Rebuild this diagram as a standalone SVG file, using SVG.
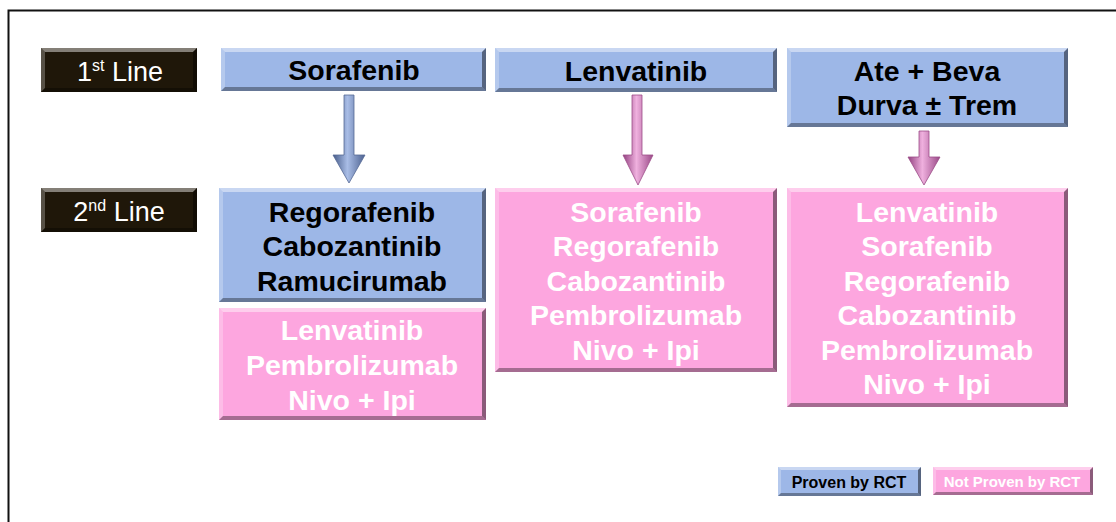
<svg xmlns="http://www.w3.org/2000/svg" width="1116" height="522" viewBox="0 0 1116 522">
<defs>
<style>
.blue{fill:#9db7e7}
.pink{fill:#fda6df}
.dark{fill:#1f1709}
.hl{fill:#ffffff;fill-opacity:.45}
.sl{fill:#ffffff;fill-opacity:.25}
.sb{fill:#000000;fill-opacity:.35}
.sr{fill:#000000;fill-opacity:.45}
.t{font-family:"Liberation Sans",Arial,sans-serif;font-weight:bold;font-size:28.5px;text-anchor:middle}
.tb{fill:#000000}
.tw{fill:#ffffff}
.lab{font-family:"Liberation Sans",Arial,sans-serif;font-size:27px;fill:#ffffff;text-anchor:middle}
.leg{font-family:"Liberation Sans",Arial,sans-serif;font-weight:bold;text-anchor:middle}
</style>
<linearGradient id="gb" x1="0" y1="0" x2="1" y2="0">
<stop offset="0" stop-color="#465b88"/>
<stop offset="0.45" stop-color="#a9bde6"/>
<stop offset="1" stop-color="#4d6290"/>
</linearGradient>
<linearGradient id="gp" x1="0" y1="0" x2="1" y2="0">
<stop offset="0" stop-color="#924180"/>
<stop offset="0.45" stop-color="#efb0de"/>
<stop offset="1" stop-color="#9a4a88"/>
</linearGradient>
</defs>
<rect width="1116" height="522" fill="#ffffff"/>
<path d="M8.5,522 V10.5 H1116" fill="none" stroke="#111111" stroke-width="2"/>

<g id="connectors">
<path d="M344,95 H354 V155 H365 L349,183 L333,155 H344 Z" fill="url(#gb)" stroke="#556a95" stroke-width="0.8"/>
<path d="M632,95 H642 V155 H653 L638,185 L623,155 H632 Z" fill="url(#gp)" stroke="#9c4c88" stroke-width="0.8"/>
<path d="M919,131 H929 V157 H940 L924,185 L908,157 H919 Z" fill="url(#gp)" stroke="#9c4c88" stroke-width="0.8"/>
</g>

<g id="line1">
<rect class="dark" x="41" y="48" width="156" height="44"/>
<polygon class="hl" points="41,48 197,48 193,52 45,52"/>
<polygon class="sl" points="41,48 45,52 45,88 41,92"/>
<polygon class="sb" points="41,92 45,88 193,88 197,92"/>
<polygon class="sr" points="197,48 197,92 193,88 193,52"/>
<text class="lab" x="120" y="81">1<tspan dy="-10" font-size="16">st</tspan><tspan dy="10"> Line</tspan></text>
</g>

<g id="line2">
<rect class="dark" x="41" y="188" width="156" height="44"/>
<polygon class="hl" points="41,188 197,188 193,192 45,192"/>
<polygon class="sl" points="41,188 45,192 45,228 41,232"/>
<polygon class="sb" points="41,232 45,228 193,228 197,232"/>
<polygon class="sr" points="197,188 197,232 193,228 193,192"/>
<text class="lab" x="119" y="221">2<tspan dy="-10" font-size="16">nd</tspan><tspan dy="10"> Line</tspan></text>
</g>

<g id="sorafenib">
<rect class="blue" x="221" y="48" width="265" height="43"/>
<polygon class="hl" points="221,48 486,48 482,52 225,52"/>
<polygon class="sl" points="221,48 225,52 225,87 221,91"/>
<polygon class="sb" points="221,91 225,87 482,87 486,91"/>
<polygon class="sr" points="486,48 486,91 482,87 482,52"/>
<text class="t tb" x="354" y="80">Sorafenib</text>
</g>

<g id="lenvatinib">
<rect class="blue" x="495" y="48" width="282" height="44"/>
<polygon class="hl" points="495,48 777,48 773,52 499,52"/>
<polygon class="sl" points="495,48 499,52 499,88 495,92"/>
<polygon class="sb" points="495,92 499,88 773,88 777,92"/>
<polygon class="sr" points="777,48 777,92 773,88 773,52"/>
<text class="t tb" x="636" y="81">Lenvatinib</text>
</g>

<g id="atebeva">
<rect class="blue" x="787" y="48" width="281" height="79"/>
<polygon class="hl" points="787,48 1068,48 1064,52 791,52"/>
<polygon class="sl" points="787,48 791,52 791,123 787,127"/>
<polygon class="sb" points="787,127 791,123 1064,123 1068,127"/>
<polygon class="sr" points="1068,48 1068,127 1064,123 1064,52"/>
<text class="t tb" x="927" y="81">Ate + Beva</text>
<text class="t tb" x="927" y="115">Durva ± Trem</text>
</g>

<g id="second-sorafenib-proven">
<rect class="blue" x="219" y="188" width="267" height="114"/>
<polygon class="hl" points="219,188 486,188 482,192 223,192"/>
<polygon class="sl" points="219,188 223,192 223,298 219,302"/>
<polygon class="sb" points="219,302 223,298 482,298 486,302"/>
<polygon class="sr" points="486,188 486,302 482,298 482,192"/>
<text class="t tb" x="352" y="222">Regorafenib</text>
<text class="t tb" x="352" y="256">Cabozantinib</text>
<text class="t tb" x="352" y="291">Ramucirumab</text>
</g>

<g id="second-sorafenib-notproven">
<rect class="pink" x="219" y="308" width="267" height="112"/>
<polygon class="hl" points="219,308 486,308 482,312 223,312"/>
<polygon class="sl" points="219,308 223,312 223,416 219,420"/>
<polygon class="sb" points="219,420 223,416 482,416 486,420"/>
<polygon class="sr" points="486,308 486,420 482,416 482,312"/>
<text class="t tw" x="352" y="340">Lenvatinib</text>
<text class="t tw" x="352" y="375">Pembrolizumab</text>
<text class="t tw" x="352" y="410">Nivo + Ipi</text>
</g>

<g id="second-lenvatinib">
<rect class="pink" x="495" y="188" width="282" height="184"/>
<polygon class="hl" points="495,188 777,188 773,192 499,192"/>
<polygon class="sl" points="495,188 499,192 499,368 495,372"/>
<polygon class="sb" points="495,372 499,368 773,368 777,372"/>
<polygon class="sr" points="777,188 777,372 773,368 773,192"/>
<text class="t tw" x="636" y="222">Sorafenib</text>
<text class="t tw" x="636" y="256">Regorafenib</text>
<text class="t tw" x="636" y="291">Cabozantinib</text>
<text class="t tw" x="636" y="325">Pembrolizumab</text>
<text class="t tw" x="636" y="360">Nivo + Ipi</text>
</g>

<g id="second-atebeva">
<rect class="pink" x="787" y="188" width="281" height="219"/>
<polygon class="hl" points="787,188 1068,188 1064,192 791,192"/>
<polygon class="sl" points="787,188 791,192 791,403 787,407"/>
<polygon class="sb" points="787,407 791,403 1064,403 1068,407"/>
<polygon class="sr" points="1068,188 1068,407 1064,403 1064,192"/>
<text class="t tw" x="927" y="222">Lenvatinib</text>
<text class="t tw" x="927" y="256">Sorafenib</text>
<text class="t tw" x="927" y="291">Regorafenib</text>
<text class="t tw" x="927" y="325">Cabozantinib</text>
<text class="t tw" x="927" y="360">Pembrolizumab</text>
<text class="t tw" x="927" y="394">Nivo + Ipi</text>
</g>

<g id="legend-proven">
<rect class="blue" x="778" y="467" width="143" height="29"/>
<polygon class="hl" points="778,467 921,467 918,470 781,470"/>
<polygon class="sl" points="778,467 781,470 781,493 778,496"/>
<polygon class="sb" points="778,496 781,493 918,493 921,496"/>
<polygon class="sr" points="921,467 921,496 918,493 918,470"/>
<text class="leg" x="849" y="488" font-size="16" fill="#000000">Proven by RCT</text>
</g>

<g id="legend-notproven">
<rect class="pink" x="933" y="467" width="160" height="28"/>
<polygon class="hl" points="933,467 1093,467 1090,470 936,470"/>
<polygon class="sl" points="933,467 936,470 936,492 933,495"/>
<polygon class="sb" points="933,495 936,492 1090,492 1093,495"/>
<polygon class="sr" points="1093,467 1093,495 1090,492 1090,470"/>
<text class="leg" x="1012" y="487" font-size="15" fill="#ffffff">Not Proven by RCT</text>
</g>
</svg>
